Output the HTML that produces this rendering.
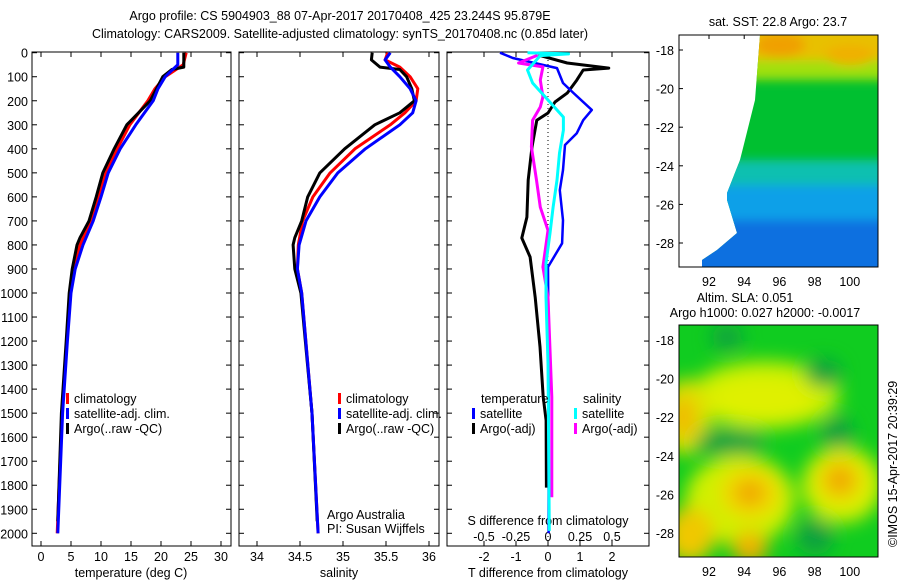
<!DOCTYPE html>
<html><head><meta charset="utf-8">
<style>
body{margin:0;background:#fff;}
svg text{font-family:"Liberation Sans",sans-serif;font-size:12.5px;fill:#000;}
</style></head>
<body>
<svg id="chart" width="900" height="580" viewBox="0 0 900 580" xmlns="http://www.w3.org/2000/svg">
<defs>
<filter id="blur" x="-50%" y="-50%" width="200%" height="200%"><feGaussianBlur stdDeviation="9"/></filter>
<filter id="blur2" x="-50%" y="-50%" width="200%" height="200%"><feGaussianBlur stdDeviation="5"/></filter>
<clipPath id="clip2"><rect x="679" y="325" width="199" height="232"/></clipPath>
<clipPath id="clip1"><polygon points="760,35 878,35 878,267 702,267 702,260 717,250 737,233 727,200 727,193 740,160 755,100"/></clipPath>
</defs>
<text x="340" y="20" text-anchor="middle" font-size="13.5">Argo profile: CS 5904903_88 07-Apr-2017 20170408_425 23.244S 95.879E</text>
<text x="340" y="38" text-anchor="middle" font-size="13.5">Climatology: CARS2009. Satellite-adjusted climatology: synTS_20170408.nc (0.85d later)</text>
<g id="panels"></g>
<!-- SST map -->
<g>
<g clip-path="url(#clip1)">
<rect x="679" y="35" width="199" height="232" fill="#00c030"/>
<g filter="url(#blur2)">
<rect x="679" y="20" width="220" height="45" fill="#e8c000"/>
<rect x="679" y="60" width="220" height="20" fill="#a0e010"/>
<rect x="679" y="160" width="220" height="30" fill="#10c0b0"/>
<rect x="679" y="185" width="220" height="40" fill="#10a0e8"/>
<rect x="679" y="220" width="220" height="60" fill="#1070e0"/>
<ellipse cx="780" cy="45" rx="25" ry="12" fill="#f0a000"/>
<ellipse cx="850" cy="55" rx="25" ry="10" fill="#f0b000"/>
</g>
</g>
<rect x="679" y="35" width="199" height="232" fill="none" stroke="#000"/>
<text x="778" y="26" text-anchor="middle" font-size="12">sat. SST: 22.8 Argo: 23.7</text>
</g>
<!-- SLA map -->
<g>
<g clip-path="url(#clip2)">
<rect x="679" y="325" width="199" height="232" fill="#10cc20"/>
<g filter="url(#blur)">
<ellipse cx="765" cy="395" rx="75" ry="34" fill="#c8f000"/>
<ellipse cx="762" cy="398" rx="55" ry="20" fill="#e0f000"/>
<ellipse cx="685" cy="417" rx="25" ry="38" fill="#e0e000"/>
<ellipse cx="683" cy="417" rx="12" ry="20" fill="#f0b800"/>
<ellipse cx="740" cy="500" rx="55" ry="45" fill="#d0f000"/>
<ellipse cx="750" cy="493" rx="30" ry="26" fill="#f0d800"/>
<ellipse cx="750" cy="493" rx="14" ry="12" fill="#f0a000"/>
<ellipse cx="842" cy="485" rx="40" ry="38" fill="#d8f000"/>
<ellipse cx="840" cy="480" rx="22" ry="22" fill="#f0d000"/>
<ellipse cx="840" cy="480" rx="12" ry="12" fill="#f0a000"/>
<ellipse cx="690" cy="535" rx="25" ry="28" fill="#f0c800"/>
<ellipse cx="750" cy="548" rx="18" ry="16" fill="#f0b000"/>
<ellipse cx="730" cy="442" rx="35" ry="13" fill="#10a040"/>
<ellipse cx="837" cy="433" rx="16" ry="16" fill="#10a040"/>
<ellipse cx="727" cy="337" rx="16" ry="12" fill="#10a040"/>
<ellipse cx="823" cy="373" rx="18" ry="14" fill="#10a040"/>
<ellipse cx="815" cy="537" rx="18" ry="18" fill="#10a040"/>
</g>
</g>
<rect x="679" y="325" width="199" height="232" fill="none" stroke="#000"/>
<text x="745" y="302" text-anchor="middle" font-size="12">Altim. SLA: 0.051</text>
<text x="765" y="317" text-anchor="middle" font-size="12">Argo h1000: 0.027 h2000: -0.0017</text>
</g>
<text transform="translate(897,547) rotate(-90)" font-size="12">©IMOS 15-Apr-2017 20:39:29</text>
</svg>
<script>
const depthT = [0,50,100,150,200,300,400,500,600,700,800,900,1000,1200,1500,2000];
const tempClim = [24.2,23.7,20.7,19.0,17.8,14.8,12.7,10.8,9.5,8.3,6.5,5.5,4.8,4.3,3.5,2.7];
const tempSat = [22.8,22.8,20.7,19.5,18.7,15.8,13.2,11.2,10.0,8.7,7.0,5.7,5.0,4.4,3.6,2.8];
const depthArgo = [0,60,70,100,200,300,400,500,600,700,770,800,900,1000,1200,1500,1950];
const tempArgo = [23.8,23.8,21.8,20.3,18.2,14.3,12.2,10.3,9.2,8.0,6.5,6.0,5.2,4.7,4.2,3.4,2.8];
const depthS = [0,30,60,100,150,200,250,300,400,500,600,700,800,900,1000,1500,2000];
const salClim = [35.52,35.49,35.66,35.78,35.87,35.85,35.72,35.55,35.14,34.85,34.65,34.53,34.48,34.47,34.52,34.64,34.71];
const salSat = [35.55,35.49,35.55,35.66,35.78,35.85,35.81,35.66,35.26,34.94,34.73,34.57,34.49,34.47,34.52,34.64,34.71];
const depthSA = [0,30,60,70,100,150,200,250,300,400,500,600,700,770,800,900,1000,1500,1950];
const salArgo = [35.34,35.33,35.43,35.66,35.74,35.8,35.83,35.66,35.37,35.02,34.73,34.59,34.52,34.44,34.42,34.44,34.51,34.64,34.70];
const dDepthTS = [0,22,64,126,168,238,281,335,384,488,572,697,793,892,1200,1600,2000];
const dTSat = [-1.5,-1.1,0.28,0.47,0.8,1.37,1.1,0.9,0.53,0.47,0.37,0.47,0.44,0,0.02,0.02,0.02];
const dDepthTA = [10,43,64,72,114,168,205,251,281,392,530,684,771,850,1018,1224,1433,1530,1810];
const dTArgo = [-0.3,0.6,1.9,1.1,0.9,0.6,0.22,0,-0.35,-0.5,-0.62,-0.66,-0.82,-0.56,-0.4,-0.25,-0.15,-0.06,-0.05];
const dDepthSS = [0,5,12,72,126,209,268,322,418,530,643,751,876,1018,1293,1990];
const dSSat = [-0.16,0.16,-0.06,-0.16,-0.12,0.02,0.12,0.12,0.09,0.07,0.04,0.016,-0.016,-0.016,0,0.01];
const dDepthSA = [10,43,59,114,184,226,281,392,530,643,739,892,1018,1433,1850];
const dSArgo = [-0.08,-0.23,-0.04,-0.06,-0.04,-0.06,-0.12,-0.13,-0.09,-0.06,0,-0.04,0,0.03,0.03];
const depthTicks = [0,100,200,300,400,500,600,700,800,900,1000,1100,1200,1300,1400,1500,1600,1700,1800,1900,2000];
const tempTicks = [0,5,10,15,20,25,30];
const salTicks = [34,34.5,35,35.5,36];
const dTTicks = [-2,-1,0,1,2];
const dSTicks = [-0.5,-0.25,0,0.25,0.5];
const dSTickLabels = ['-0.5','-0.25','0','0.25','0.5'];

const NS='http://www.w3.org/2000/svg';
const root=document.getElementById('panels');
const yD=d=>52.7+d*0.2403;
const xT=v=>41+6*v;
const xS=v=>257+86*(v-34);
const xDT=v=>548+32*v;
const xDS=v=>548+128*v;
function mk(tag,attrs,parent){const e=document.createElementNS(NS,tag);for(const k in attrs)e.setAttribute(k,attrs[k]);(parent||root).appendChild(e);return e;}
function txt(s,x,y,anchor,name){const e=mk('text',{x:x,y:y,'text-anchor':anchor||'start'});e.textContent=s;


return e;}
function box(x0,x1,name){const r=mk('rect',{x:x0,y:52,width:x1-x0,height:494,fill:'none',stroke:'#000'});

}
function line(xs,ds,xf,color,w,name){const p=xs.map((v,i)=>xf(v).toFixed(1)+','+yD(ds[i]).toFixed(1)).join(' ');
const e=mk('polyline',{points:p,fill:'none',stroke:color,'stroke-width':w,'stroke-linejoin':'round'});

}
function legend(x,y,color,label,name){const r=mk('rect',{x:x,y:y-10,width:3,height:11,fill:color});


txt(label,x+8,y,'start',name);}
const panels=[[32,231],[239,439],[447,649]];
panels.forEach((p,i)=>{box(p[0],p[1],'panel-'+(i+1)+'-frame');
depthTicks.forEach(d=>{mk('line',{x1:p[0],x2:p[0]+5,y1:yD(d),y2:yD(d),stroke:'#000'});mk('line',{x1:p[1],x2:p[1]-5,y1:yD(d),y2:yD(d),stroke:'#000'});});});
depthTicks.forEach(d=>txt(String(d),28,yD(d)+5,'end','depth-tick-label'));
tempTicks.forEach(v=>{mk('line',{x1:xT(v),x2:xT(v),y1:546,y2:541,stroke:'#000'});mk('line',{x1:xT(v),x2:xT(v),y1:52,y2:57,stroke:'#000'});txt(String(v),xT(v),561,'middle','temperature-tick-label');});
salTicks.forEach(v=>{mk('line',{x1:xS(v),x2:xS(v),y1:546,y2:541,stroke:'#000'});mk('line',{x1:xS(v),x2:xS(v),y1:52,y2:57,stroke:'#000'});txt(String(v),xS(v),561,'middle','salinity-tick-label');});
dTTicks.forEach(v=>{mk('line',{x1:xDT(v),x2:xDT(v),y1:546,y2:541,stroke:'#000'});txt(String(v),xDT(v),561,'middle','t-diff-tick-label');});
dSTicks.forEach((v,i)=>{mk('line',{x1:xDS(v),x2:xDS(v),y1:52,y2:57,stroke:'#000'});txt(dSTickLabels[i],xDS(v),541,'middle','s-diff-tick-label');});
txt('temperature (deg C)',131,577,'middle','temperature-axis-title');
txt('salinity',339,577,'middle','salinity-axis-title');
txt('T difference from climatology',548,577,'middle','t-diff-axis-title');
txt('S difference from climatology',548,525,'middle','s-diff-axis-title');
mk('line',{x1:548,x2:548,y1:52,y2:546,stroke:'#000','stroke-dasharray':'1,3'});
line(tempClim,depthT,xT,'#ff0000',3,'temp-climatology-line');
line(tempArgo,depthArgo,xT,'#000',3,'temp-argo-line');
line(tempSat,depthT,xT,'#0000ff',3,'temp-satellite-line');
line(salClim,depthS,xS,'#ff0000',3,'sal-climatology-line');
line(salArgo,depthSA,xS,'#000',3,'sal-argo-line');
line(salSat,depthS,xS,'#0000ff',3,'sal-satellite-line');
line(dTArgo,dDepthTA,xDT,'#000',3,'tdiff-argo-line');
line(dTSat,dDepthTS,xDT,'#0000ff',2.5,'tdiff-satellite-line');
line(dSArgo,dDepthSA,xDS,'#ff00ff',3,'sdiff-argo-line');
line(dSSat,dDepthSS,xDS,'#00ffff',3,'sdiff-satellite-line');
legend(66,403,'#ff0000','climatology','legend-climatology');
legend(66,418,'#0000ff','satellite-adj. clim.','legend-satellite-adj');
legend(66,433,'#000','Argo(..raw -QC)','legend-argo');
legend(338,403,'#ff0000','climatology','legend2-climatology');
legend(338,418,'#0000ff','satellite-adj. clim.','legend2-satellite-adj');
legend(338,433,'#000','Argo(..raw -QC)','legend2-argo');
txt('temperature',481,403,'start','legend-temperature-header');
txt('salinity',583,403,'start','legend-salinity-header');
legend(472,418,'#0000ff','satellite','legend-t-satellite');
legend(472,433,'#000','Argo(-adj)','legend-t-argo');
legend(574,418,'#00ffff','satellite','legend-s-satellite');
legend(574,433,'#ff00ff','Argo(-adj)','legend-s-argo');
txt('Argo Australia',327,519,'start','credit-argo-australia');
txt('PI: Susan Wijffels',327,533,'start','credit-pi');
// map axes
const latTicks=[-18,-20,-22,-24,-26,-28];
const lonTicks=[92,94,96,98,100];
[[50],[340]].forEach(m=>{latTicks.forEach(l=>{const y=m[0]+(-18-l)*19.3;mk('line',{x1:679,x2:683,y1:y,y2:y,stroke:'#000'});mk('line',{x1:878,x2:874,y1:y,y2:y,stroke:'#000'});txt(String(l),674,y+5,'end','map-lat-label');});});
[[35,267,286],[325,557,576]].forEach(m=>{lonTicks.forEach(l=>{const x=709+(l-92)*17.6;mk('line',{x1:x,x2:x,y1:m[1],y2:m[1]-4,stroke:'#000'});mk('line',{x1:x,x2:x,y1:m[0],y2:m[0]+4,stroke:'#000'});txt(String(l),x,m[2],'middle','map-lon-label');});});
</script>
</body></html>
